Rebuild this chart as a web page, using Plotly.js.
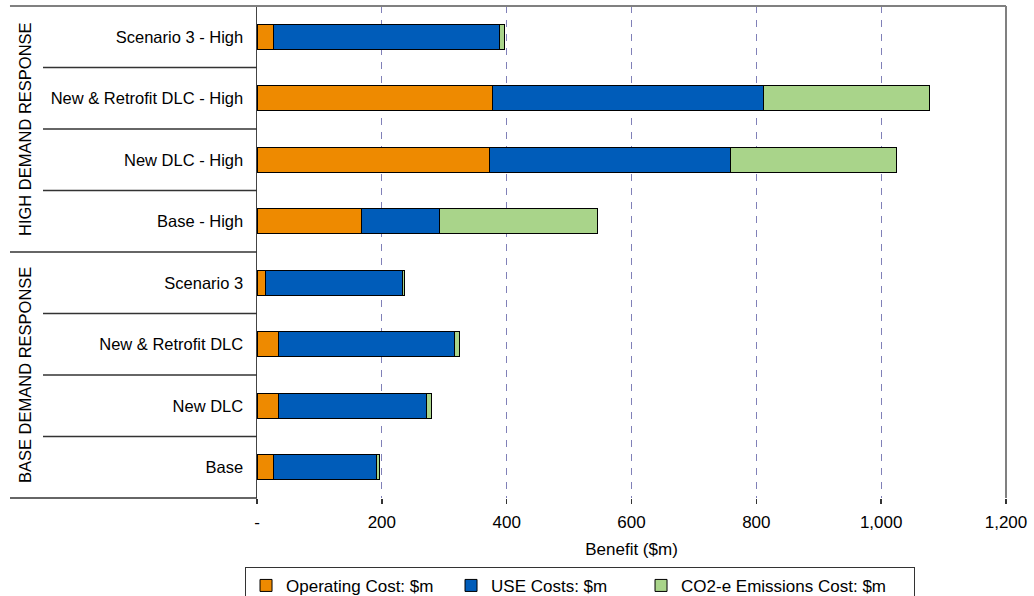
<!DOCTYPE html>
<html>
<head>
<meta charset="utf-8">
<script src="https://cdn.plot.ly/plotly-3.0.1.min.js"></script>
<style>
  html, body { margin: 0; padding: 0; background: #fff; }
  #chart { width: 1034px; height: 596px; }
</style>
</head>
<body>
<div id="chart"></div>
<script>
// Categories (bottom to top)
const categories = [
  'Base', 'New DLC', 'New & Retrofit DLC', 'Scenario 3',
  'Base - High', 'New DLC - High', 'New & Retrofit DLC - High', 'Scenario 3 - High'
];
// Series values ($m)
const operatingCost = [26, 34, 35, 13, 168, 373, 378, 27];
const useCosts      = [165, 238, 281, 220, 125, 386, 433, 361];
const co2Costs      = [5, 7, 8, 4, 253, 266, 266, 8];

const seriesNames = ['Operating Cost: $m', 'USE Costs: $m', 'CO2-e Emissions Cost: $m'];
const groupNames = ['BASE DEMAND RESPONSE', 'HIGH DEMAND RESPONSE'];

const xTickVals = [0, 200, 400, 600, 800, 1000, 1200];
const xTickText = ['-', '200', '400', '600', '800', '1,000', '1,200'];

const colors = ['#EE8A00', '#005CB9', '#A9D48A'];
const legendWidths = [160, 145, 228];
const FONT = 'Liberation Sans, Arial, sans-serif';

const seriesValues = [operatingCost, useCosts, co2Costs];
const traces = seriesValues.map((vals, i) => ({
  type: 'bar',
  orientation: 'h',
  name: seriesNames[i],
  y: categories,
  x: vals,
  width: 0.41,
  legendwidth: legendWidths[i],
  marker: { color: colors[i], line: { color: '#000', width: 1 } },
  hoverinfo: 'x+y+name'
}));

// Divider lines in the category label area
const shapes = [];
const nCat = categories.length;
for (let i = 0; i < nCat - 1; i++) {
  const isGroupBoundary = (i === 3);
  shapes.push({
    type: 'line', xref: 'paper', yref: 'y',
    x0: isGroupBoundary ? -0.3298 : -0.2857, x1: 0,
    y0: i + 0.5, y1: i + 0.5,
    line: { color: '#333', width: 1.5 }
  });
}
// bottom long line
shapes.push({
  type: 'line', xref: 'paper', yref: 'paper',
  x0: -0.3298, x1: 0, y0: 0, y1: 0,
  line: { color: '#333', width: 1.5 }
});
// top border line
shapes.push({
  type: 'line', xref: 'paper', yref: 'paper',
  x0: -0.3298, x1: 1, y0: 1, y1: 1,
  line: { color: '#808080', width: 2 }
});
// right border
shapes.push({
  type: 'line', xref: 'paper', yref: 'paper',
  x0: 1, x1: 1, y0: 0, y1: 1,
  line: { color: '#808080', width: 2 }
});

const annotations = [
  { text: groupNames[0], xref: 'paper', yref: 'paper', x: -0.3097, y: 0.25,
    textangle: -90, showarrow: false, font: { family: FONT, size: 16.5, color: '#000' },
    xanchor: 'center', yanchor: 'middle' },
  { text: groupNames[1], xref: 'paper', yref: 'paper', x: -0.3097, y: 0.75,
    textangle: -90, showarrow: false, font: { family: FONT, size: 16.5, color: '#000' },
    xanchor: 'center', yanchor: 'middle' }
];

const layout = {
  width: 1034, height: 596,
  margin: { l: 257, r: 28, t: 6, b: 98, pad: 0, autoexpand: false },
  paper_bgcolor: '#fff', plot_bgcolor: '#fff',
  barmode: 'stack',
  font: { family: FONT, size: 17, color: '#000' },
  xaxis: {
    range: [0, 1200],
    tickvals: xTickVals, ticktext: xTickText,
    ticks: 'outside', ticklen: 5, tickcolor: '#333', tickwidth: 1.5,
    ticklabelstandoff: 4,
    showgrid: true, gridcolor: '#8080B8', gridwidth: 1, griddash: '7px,7px',
    zeroline: false,
    showline: false,
    tickfont: { family: FONT, size: 17, color: '#000' },
    title: { text: 'Benefit ($m)', font: { family: FONT, size: 17, color: '#000' }, standoff: 11 },
    automargin: false,
    fixedrange: true
  },
  yaxis: {
    type: 'category',
    categoryorder: 'array', categoryarray: categories,
    range: [-0.5, nCat - 0.5],
    ticks: '', ticklabelstandoff: 9,
    showgrid: false, zeroline: false,
    showline: true, linecolor: '#444', linewidth: 1.5,
    tickfont: { family: FONT, size: 16.5, color: '#000' },
    automargin: false,
    fixedrange: true
  },
  legend: {
    orientation: 'h',
    x: -0.016, xanchor: 'left',
    y: -0.14, yanchor: 'top',
    bordercolor: '#333', borderwidth: 1,
    bgcolor: '#fff',
    font: { family: FONT, size: 17, color: '#000' },
    traceorder: 'normal',
    itemwidth: 30
  },
  shapes: shapes,
  annotations: annotations,
  showlegend: true
};

Plotly.newPlot('chart', traces, layout, { displayModeBar: false, staticPlot: true });
</script>
</body>
</html>
